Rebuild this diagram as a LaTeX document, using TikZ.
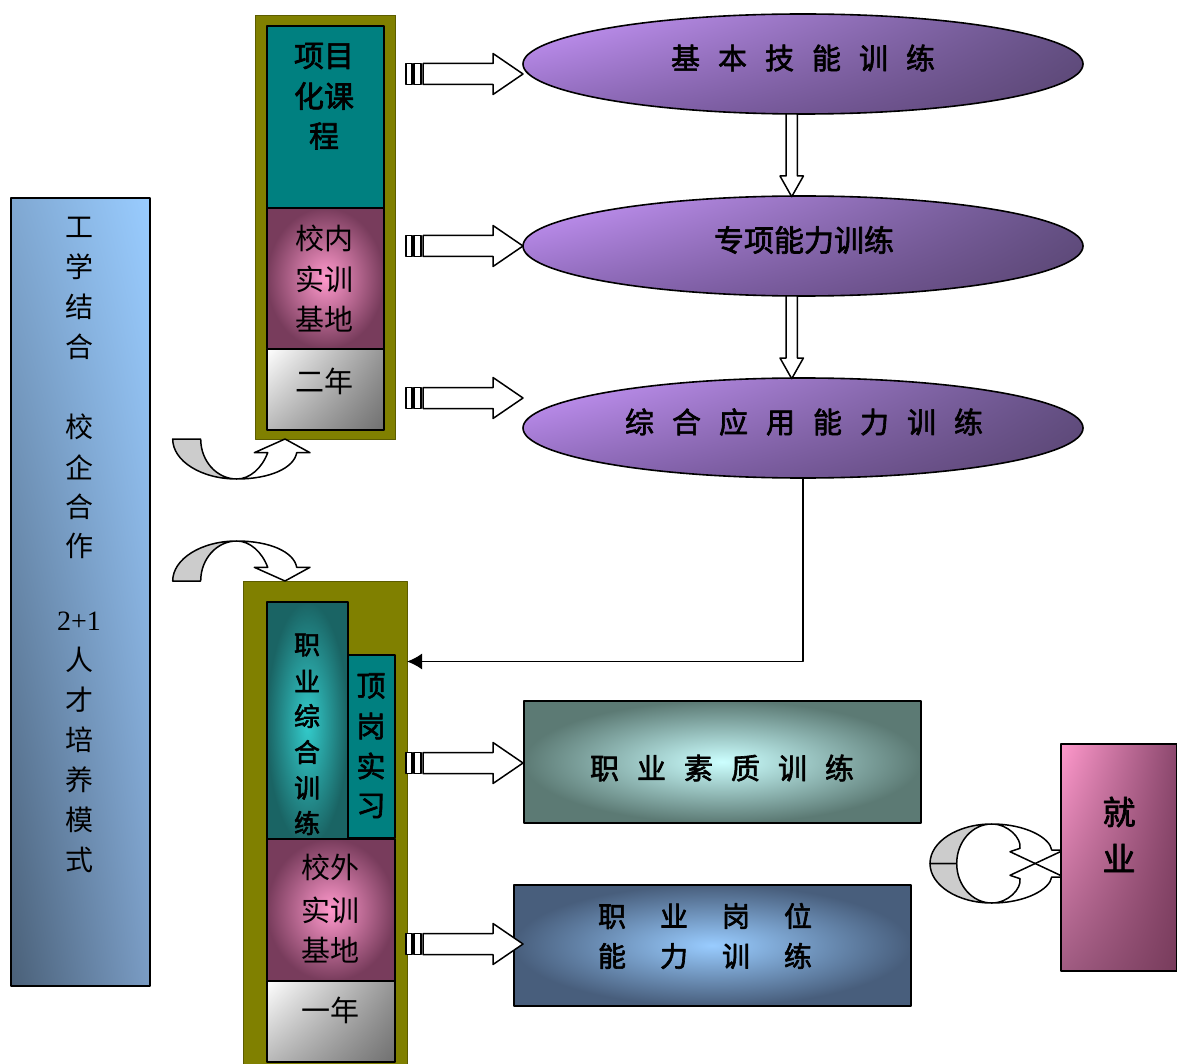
\documentclass[tikz,border=0pt]{standalone}
\usepackage{fontspec}
\setmainfont{Liberation Serif}
\newfontfamily\cjk{Noto Sans CJK SC}
\newfontfamily\cjkb[FakeBold=2.2]{Noto Sans CJK SC}
\usetikzlibrary{arrows.meta,shapes.geometric,shadings}
\definecolor{olv}{HTML}{808000}
\definecolor{olvdk}{HTML}{5C5C00}
\definecolor{tl}{HTML}{008080}
\definecolor{grayc}{HTML}{CCCCCC}
\newcommand\cg[1]{\hspace*{#1pt}}
\begin{document}
\begin{tikzpicture}[x=1pt,y=-1pt,line join=round,
  bx/.style={draw=black,line width=1.6pt,inner sep=0pt,anchor=north west,rectangle},
  frm/.style={draw=olvdk,line width=1pt,fill=olv,inner sep=0pt,anchor=north west,rectangle},
  ell/.style={draw=black,line width=1.6pt,ellipse,minimum width=560pt,minimum height=100pt,inner sep=0pt,
     upper left={rgb,255:red,204;green,153;blue,255}, upper right={rgb,255:red,102;green,82;blue,135},
     lower left={rgb,255:red,140;green,104;blue,184}, lower right={rgb,255:red,88;green,68;blue,112}},
  pinkbox/.style={inner color={rgb,255:red,255;green,153;blue,204}, outer color={rgb,255:red,120;green,60;blue,92}},
  graybox/.style={upper left=white, upper right={rgb,255:red,150;green,150;blue,150},
     lower left={rgb,255:red,185;green,185;blue,185}, lower right={rgb,255:red,112;green,112;blue,112}},
  blk/.style={draw=black,line width=1.5pt,fill=white},
  grayblk/.style={draw=black,line width=1.5pt,fill=grayc},
  tx/.style={inner sep=0pt,font=\cjk\fontsize{#1}{#1}\selectfont},
  tb/.style={inner sep=0pt,font=\cjkb\fontsize{#1}{#1}\selectfont},
  hblk/.pic={
    \draw[blk] (0,-10.5) rectangle (6,10.5);
    \draw[blk] (8,-10.5) rectangle (15,10.5);
    \draw[blk] (17,-10.5) -- (87,-10.5) -- (87,-20.5) -- (117,0) -- (87,20.5) -- (87,10.5) -- (17,10.5) -- cycle;
  },
  vblk/.pic={
    \draw[blk] (-5.7,0) -- (5.7,0) -- (5.7,62) -- (11.7,62) -- (0,82.7) -- (-11.7,62) -- (-5.7,62) -- cycle;
  }
]
\useasboundingbox (0,0) rectangle (1177,1064);

% left tall box
\node[bx, minimum width=139pt, minimum height=788pt,
  upper left={rgb,255:red,128;green,168;blue,210}, upper right={rgb,255:red,153;green,204;blue,255},
  lower left={rgb,255:red,74;green,96;blue,120}, lower right={rgb,255:red,122;green,156;blue,196}] (L) at (10,197) {};
\foreach \t/\y [count=\i] in {工/227,学/267,结/307,合/347,校/427,企/467,合/507,作/546,人/660,才/700,培/740,养/780,模/820,式/860}
  \node[tx=28] (L\i) at (79,\y) {\t};
\node[inner sep=0pt,font=\fontsize{28}{28}\selectfont] (L21) at (79,621) {2+1};

% upper frame
\node[frm, minimum width=140pt, minimum height=424pt] (F1) at (255,15) {};
\node[bx, fill=tl, minimum width=117pt, minimum height=182pt] (P1) at (266,25) {};
\node[bx, pinkbox, minimum width=117pt, minimum height=141pt] (P2) at (266,207) {};
\node[bx, graybox, minimum width=117pt, minimum height=81pt] (P3) at (266,348) {};
\node[tb=30] (p1a) at (324,56) {项目};
\node[tb=30] (p1b) at (324,96) {化课};
\node[tb=30] (p1c) at (324,136) {程};
\node[tx=29] (p2a) at (324,238) {校内};
\node[tx=29] (p2b) at (324,279) {实训};
\node[tx=29] (p2c) at (324,319) {基地};
\node[tx=29] (p3a) at (324,381) {二年};

% lower frame
\node[frm, minimum width=164pt, minimum height=492pt] (F2) at (243,581) {};
\node[bx, fill=tl, minimum width=47pt, minimum height=183pt] (Q2) at (347,654) {};
\node[bx, inner color={rgb,255:red,51;green,204;blue,204}, outer color={rgb,255:red,26;green,100;blue,100},
  minimum width=81pt, minimum height=244pt] (Q1) at (266,601) {};
\node[bx, pinkbox, minimum width=128pt, minimum height=142pt] (Q3) at (266,838) {};
\node[bx, graybox, minimum width=128pt, minimum height=81pt] (Q4) at (266,980) {};
\foreach \t/\y [count=\i] in {职/645,业/681,综/716,合/752,训/788,练/823}
  \node[tb=26] (q1\i) at (307,\y) {\t};
\foreach \t/\y [count=\i] in {顶/686,岗/726,实/766,习/806}
  \node[tb=29] (q2\i) at (371,\y) {\t};
\node[tx=29] (q3a) at (330,867) {校外};
\node[tx=29] (q3b) at (330,910) {实训};
\node[tx=29] (q3c) at (330,950) {基地};
\node[tx=29] (q4a) at (330,1010) {一年};

% ellipses
\node[ell] (E1) at (803,64) {};
\node[ell] (E2) at (803,246) {};
\node[ell] (E3) at (803,428) {};
\node[tb=29] (e1) at (803,58) {基\cg{18}本\cg{18}技\cg{18}能\cg{18}训\cg{18}练};
\node[tb=30] (e2) at (804,240) {专项能力训练};
\node[tb=29] (e3) at (804,422) {综\cg{18}合\cg{18}应\cg{18}用\cg{18}能\cg{18}力\cg{18}训\cg{18}练};

% right boxes
\node[bx, inner color={rgb,255:red,204;green,255;blue,255}, outer color={rgb,255:red,92;green,122;blue,116},
  minimum width=397pt, minimum height=122pt] (R1) at (523,700) {};
\node[bx, inner color={rgb,255:red,153;green,204;blue,255}, outer color={rgb,255:red,72;green,94;blue,124},
  minimum width=397pt, minimum height=121pt] (R2) at (513,884) {};
\node[tb=29] (r1) at (722,768) {职\cg{18}业\cg{18}素\cg{18}质\cg{18}训\cg{18}练};
\node[tb=28] (r2a) at (705,916) {职\cg{34}业\cg{34}岗\cg{34}位};
\node[tb=28] (r2b) at (705,956) {能\cg{34}力\cg{34}训\cg{34}练};

% block arrows
\pic at (406,74) {hblk};
\pic at (406,246) {hblk};
\pic at (406,398) {hblk};
\pic at (406,763) {hblk};
\pic at (406,944) {hblk};
\pic at (791.7,114) {vblk};
\pic at (791.7,296) {vblk};

% connector
\coordinate (tgt) at (407,661.5);
\draw[line width=1.6pt, -{Latex[length=15pt,width=16pt]}] (E3.south) |- (tgt);

% curved up arrow
\draw[grayblk] (172.7,439) -- (200.7,439) .. controls (200.7,461.1) and (216.8,479) .. (236.7,479)
   .. controls (201.4,479) and (172.7,461.1) .. (172.7,439) -- cycle;
\draw[blk] (236.7,479) .. controls (270,479) and (294,468) .. (296.7,452.7) -- (310,452.7) -- (285,439)
   -- (254.3,452.7) -- (267.7,452.7) .. controls (262,468) and (250,479) .. (236.7,479) -- cycle;
% curved down arrow
\draw[grayblk] (172.7,581) -- (200.7,581) .. controls (200.7,558.9) and (216.8,541) .. (236.7,541)
   .. controls (201.4,541) and (172.7,558.9) .. (172.7,581) -- cycle;
\draw[blk] (236.7,541) .. controls (270,541) and (294,552) .. (296.7,567.3) -- (310,567.3) -- (285,581)
   -- (254.3,567.3) -- (267.7,567.3) .. controls (262,552) and (250,541) .. (236.7,541) -- cycle;

% circular arrow
\draw[grayblk] (930,863.5) -- (956.7,863.5) .. controls (956.7,841.7) and (972.4,824) .. (991.7,824)
   .. controls (957.6,824) and (930,841.7) .. (930,863.5) -- cycle;
\draw[grayblk] (930,863.5) -- (956.7,863.5) .. controls (956.7,885.3) and (972.4,903) .. (991.7,903)
   .. controls (957.6,903) and (930,885.3) .. (930,863.5) -- cycle;
\path[fill=white] (991.7,824) .. controls (1026,824) and (1050,838) .. (1051.7,850) -- (1066.7,850) -- (1066.7,878.3)
   -- (1010,851.7) -- (1020,848.3) .. controls (1021.5,838) and (1008,824) .. (991.7,824) -- cycle;
\path[fill=white] (991.7,903) .. controls (1026,903) and (1050,889) .. (1051.7,877) -- (1066.7,877) -- (1066.7,848.7)
   -- (1010,875.3) -- (1020,878.7) .. controls (1021.5,889) and (1008,903) .. (991.7,903) -- cycle;
\draw[line width=1.5pt] (991.7,824) .. controls (1026,824) and (1050,838) .. (1051.7,850) -- (1066.7,850) -- (1066.7,878.3)
   -- (1010,851.7) -- (1020,848.3) .. controls (1021.5,838) and (1008,824) .. (991.7,824) -- cycle;
\draw[line width=1.5pt] (991.7,903) .. controls (1026,903) and (1050,889) .. (1051.7,877) -- (1066.7,877) -- (1066.7,848.7)
   -- (1010,875.3) -- (1020,878.7) .. controls (1021.5,889) and (1008,903) .. (991.7,903) -- cycle;

% employment box
\node[bx, minimum width=116pt, minimum height=227pt,
  upper left={rgb,255:red,255;green,153;blue,204}, upper right={rgb,255:red,140;green,72;blue,110},
  lower left={rgb,255:red,160;green,92;blue,130}, lower right={rgb,255:red,120;green,60;blue,92}] (J) at (1060,743) {};
\node[tb=33] (j1) at (1119,812) {就};
\node[tb=33] (j2) at (1119,858) {业};
\end{tikzpicture}
\end{document}
